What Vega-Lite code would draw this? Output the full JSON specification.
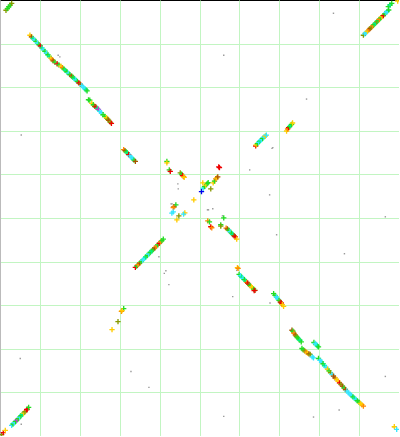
{
  "$schema": "https://vega.github.io/schema/vega-lite/v6.json",
  "width": 399,
  "height": 436,
  "padding": 0,
  "autosize": {"type": "none"},
  "background": "white",
  "config": {"view": {"stroke": "black", "strokeWidth": 1}},
  "datasets": {
    "hits": [
      {"ref": 6, "qry": 10.3, "kind": "v"}, {"ref": 7.4, "qry": 8.6, "kind": "g"}, {"ref": 8.8, "qry": 6.8, "kind": "g"}, {"ref": 10.2, "qry": 5.1, "kind": "g"}, {"ref": 11.7, "qry": 3.3, "kind": "v"},
      {"ref": 30, "qry": 35.3, "kind": "y"}, {"ref": 31.5, "qry": 36.9, "kind": "b"}, {"ref": 33, "qry": 38.4, "kind": "s"}, {"ref": 34.5, "qry": 40, "kind": "c"}, {"ref": 36, "qry": 41.5, "kind": "g"}, {"ref": 37.5, "qry": 43.1, "kind": "c"}, {"ref": 39, "qry": 44.7, "kind": "g"}, {"ref": 40.3, "qry": 46, "kind": "r"},
      {"ref": 42, "qry": 48, "kind": "s"}, {"ref": 43.5, "qry": 49.7, "kind": "c"}, {"ref": 45, "qry": 51.4, "kind": "g"}, {"ref": 46.5, "qry": 53.2, "kind": "c"}, {"ref": 48, "qry": 54.9, "kind": "g"}, {"ref": 49.5, "qry": 56.6, "kind": "s"}, {"ref": 51, "qry": 58.3, "kind": "y"}, {"ref": 52.3, "qry": 59.8, "kind": "o"}, {"ref": 53.3, "qry": 61, "kind": "b"},
      {"ref": 55, "qry": 62.2, "kind": "g"}, {"ref": 57.3, "qry": 64, "kind": "r"}, {"ref": 59, "qry": 65, "kind": "g"}, {"ref": 61, "qry": 66.3, "kind": "y"},
      {"ref": 62.5, "qry": 67.7, "kind": "o"}, {"ref": 64, "qry": 69.1, "kind": "g"}, {"ref": 65.5, "qry": 70.5, "kind": "s"}, {"ref": 67, "qry": 71.9, "kind": "g"}, {"ref": 68.5, "qry": 73.3, "kind": "c"}, {"ref": 70, "qry": 74.7, "kind": "g"}, {"ref": 71.7, "qry": 76.2, "kind": "b"}, {"ref": 73, "qry": 77.4, "kind": "g"}, {"ref": 74.5, "qry": 78.8, "kind": "s"}, {"ref": 76, "qry": 80.2, "kind": "c"}, {"ref": 77.5, "qry": 81.6, "kind": "g"}, {"ref": 79, "qry": 83, "kind": "r"},
      {"ref": 80.5, "qry": 84.4, "kind": "b"}, {"ref": 82, "qry": 85.9, "kind": "c"}, {"ref": 83.5, "qry": 87.3, "kind": "c"}, {"ref": 85, "qry": 88.8, "kind": "c"}, {"ref": 86.3, "qry": 90, "kind": "s"}, {"ref": 87.3, "qry": 91, "kind": "g"},
      {"ref": 88.7, "qry": 100, "kind": "g"}, {"ref": 90, "qry": 100.3, "kind": "g"}, {"ref": 92, "qry": 103.7, "kind": "y"}, {"ref": 93.5, "qry": 105, "kind": "g"}, {"ref": 95, "qry": 106.7, "kind": "b"}, {"ref": 96.3, "qry": 107.3, "kind": "r"}, {"ref": 97.5, "qry": 108.7, "kind": "s"}, {"ref": 98.7, "qry": 109.7, "kind": "p"}, {"ref": 100, "qry": 111.7, "kind": "c"}, {"ref": 101.5, "qry": 113, "kind": "c"}, {"ref": 103.3, "qry": 115, "kind": "g"}, {"ref": 105, "qry": 116.7, "kind": "g"}, {"ref": 106.7, "qry": 118, "kind": "y"}, {"ref": 108, "qry": 119.5, "kind": "v"}, {"ref": 109, "qry": 120.7, "kind": "b"}, {"ref": 110.5, "qry": 122.5, "kind": "v"}, {"ref": 111.7, "qry": 123.7, "kind": "r"},
      {"ref": 124, "qry": 150, "kind": "o"}, {"ref": 125.3, "qry": 151, "kind": "b"}, {"ref": 126.5, "qry": 152.3, "kind": "g"}, {"ref": 127.7, "qry": 153.3, "kind": "s"}, {"ref": 129, "qry": 155, "kind": "r"}, {"ref": 130.3, "qry": 156.3, "kind": "c"}, {"ref": 131.7, "qry": 157.7, "kind": "c"}, {"ref": 133, "qry": 159.3, "kind": "c"}, {"ref": 134.3, "qry": 160.5, "kind": "g"}, {"ref": 135.7, "qry": 161.7, "kind": "b"},
      {"ref": 167.3, "qry": 161.7, "kind": "g"}, {"ref": 167.3, "qry": 163.3, "kind": "y"}, {"ref": 169.7, "qry": 170.3, "kind": "g"}, {"ref": 170.7, "qry": 171.7, "kind": "r"},
      {"ref": 180.7, "qry": 173.3, "kind": "v"}, {"ref": 182, "qry": 174.5, "kind": "g"}, {"ref": 183, "qry": 176, "kind": "r"}, {"ref": 184, "qry": 177, "kind": "o"}, {"ref": 184.7, "qry": 177.7, "kind": "y"},
      {"ref": 219.3, "qry": 167.3, "kind": "r"}, {"ref": 220, "qry": 168, "kind": "r"},
      {"ref": 203.7, "qry": 188.7, "kind": "c"}, {"ref": 205, "qry": 187, "kind": "g"}, {"ref": 206.3, "qry": 185.5, "kind": "y"}, {"ref": 207.7, "qry": 184, "kind": "g"}, {"ref": 208.7, "qry": 183, "kind": "g"}, {"ref": 203.3, "qry": 183.3, "kind": "y"},
      {"ref": 213.7, "qry": 183.3, "kind": "y"}, {"ref": 215, "qry": 181.5, "kind": "g"}, {"ref": 216.3, "qry": 179.3, "kind": "o"}, {"ref": 217.3, "qry": 178.3, "kind": "y"}, {"ref": 218.3, "qry": 177.3, "kind": "b"},
      {"ref": 211.3, "qry": 189.3, "kind": "v"}, {"ref": 202, "qry": 192, "kind": "u"}, {"ref": 194.3, "qry": 200.3, "kind": "y"},
      {"ref": 176.3, "qry": 205.3, "kind": "g"}, {"ref": 174.3, "qry": 207.3, "kind": "b"}, {"ref": 173.7, "qry": 208, "kind": "o"},
      {"ref": 172.3, "qry": 213.7, "kind": "c"}, {"ref": 173.7, "qry": 212.3, "kind": "c"}, {"ref": 179.3, "qry": 216.3, "kind": "v"}, {"ref": 185.3, "qry": 213.3, "kind": "y"}, {"ref": 184, "qry": 214.7, "kind": "c"}, {"ref": 177.3, "qry": 220.3, "kind": "y"},
      {"ref": 224.3, "qry": 218.3, "kind": "g"}, {"ref": 208.3, "qry": 221.3, "kind": "o"}, {"ref": 210, "qry": 222.3, "kind": "g"}, {"ref": 211.3, "qry": 227.3, "kind": "r"}, {"ref": 212.3, "qry": 228.3, "kind": "o"}, {"ref": 221.3, "qry": 225.3, "kind": "g"}, {"ref": 221.3, "qry": 226.7, "kind": "v"},
      {"ref": 226.7, "qry": 228.7, "kind": "o"}, {"ref": 228, "qry": 229.5, "kind": "b"}, {"ref": 229.3, "qry": 230.7, "kind": "g"}, {"ref": 230.7, "qry": 232.3, "kind": "c"}, {"ref": 232, "qry": 233.7, "kind": "g"}, {"ref": 233.3, "qry": 235, "kind": "s"}, {"ref": 234.7, "qry": 236.3, "kind": "b"}, {"ref": 235.7, "qry": 237.3, "kind": "r"}, {"ref": 237.3, "qry": 239.7, "kind": "y"},
      {"ref": 135.7, "qry": 268, "kind": "r"}, {"ref": 137, "qry": 266.7, "kind": "g"}, {"ref": 138.5, "qry": 265.2, "kind": "o"}, {"ref": 140, "qry": 263.7, "kind": "b"}, {"ref": 141.5, "qry": 262.2, "kind": "g"}, {"ref": 143, "qry": 260.7, "kind": "c"}, {"ref": 144.5, "qry": 259.2, "kind": "c"}, {"ref": 146, "qry": 257.6, "kind": "s"}, {"ref": 147.5, "qry": 256.1, "kind": "g"}, {"ref": 149, "qry": 254.6, "kind": "c"}, {"ref": 150.5, "qry": 253.1, "kind": "g"}, {"ref": 152, "qry": 251.6, "kind": "s"}, {"ref": 153.5, "qry": 250.1, "kind": "g"}, {"ref": 155, "qry": 248.6, "kind": "b"}, {"ref": 156.5, "qry": 247.1, "kind": "o"}, {"ref": 158, "qry": 245.5, "kind": "g"}, {"ref": 159.5, "qry": 244, "kind": "r"}, {"ref": 161, "qry": 242.5, "kind": "o"}, {"ref": 162.3, "qry": 241.1, "kind": "g"}, {"ref": 163.7, "qry": 239.7, "kind": "g"},
      {"ref": 238, "qry": 268.3, "kind": "y"}, {"ref": 238.7, "qry": 269, "kind": "o"},
      {"ref": 239.7, "qry": 275, "kind": "g"}, {"ref": 241, "qry": 276.3, "kind": "c"}, {"ref": 242.3, "qry": 277.7, "kind": "s"}, {"ref": 243.7, "qry": 279, "kind": "c"}, {"ref": 245, "qry": 280.3, "kind": "g"}, {"ref": 246.3, "qry": 281.7, "kind": "s"}, {"ref": 247.5, "qry": 283, "kind": "o"}, {"ref": 248.3, "qry": 283.7, "kind": "r"}, {"ref": 249.5, "qry": 285, "kind": "b"}, {"ref": 250.7, "qry": 286.3, "kind": "g"}, {"ref": 252, "qry": 287.5, "kind": "y"}, {"ref": 253, "qry": 288.3, "kind": "y"}, {"ref": 254.3, "qry": 289.7, "kind": "g"}, {"ref": 255.7, "qry": 291, "kind": "b"}, {"ref": 254.8, "qry": 291.3, "kind": "r"},
      {"ref": 124, "qry": 309.3, "kind": "g"}, {"ref": 121.7, "qry": 312, "kind": "o"}, {"ref": 122.3, "qry": 311.3, "kind": "y"}, {"ref": 118.3, "qry": 322.3, "kind": "v"}, {"ref": 112.3, "qry": 330.3, "kind": "y"},
      {"ref": 1.7, "qry": 435.7, "kind": "v"}, {"ref": 3.3, "qry": 433.7, "kind": "r"}, {"ref": 5.3, "qry": 431.3, "kind": "y"},
      {"ref": 11.7, "qry": 426.3, "kind": "c"}, {"ref": 13, "qry": 425, "kind": "g"}, {"ref": 14.3, "qry": 423.7, "kind": "c"}, {"ref": 15.7, "qry": 422.3, "kind": "g"}, {"ref": 17, "qry": 421, "kind": "p"}, {"ref": 18.3, "qry": 419.5, "kind": "g"}, {"ref": 19.7, "qry": 418, "kind": "c"}, {"ref": 21, "qry": 416.7, "kind": "g"}, {"ref": 22.3, "qry": 415.3, "kind": "s"}, {"ref": 23.7, "qry": 414, "kind": "y"}, {"ref": 25, "qry": 412.7, "kind": "v"}, {"ref": 26.7, "qry": 410.7, "kind": "r"}, {"ref": 27.3, "qry": 410, "kind": "r"}, {"ref": 28.7, "qry": 408.3, "kind": "g"},
      {"ref": 274.3, "qry": 294.3, "kind": "g"}, {"ref": 275.7, "qry": 296, "kind": "g"}, {"ref": 277, "qry": 297.7, "kind": "c"}, {"ref": 278.3, "qry": 299.3, "kind": "c"}, {"ref": 279.7, "qry": 301, "kind": "g"}, {"ref": 281, "qry": 302.7, "kind": "b"}, {"ref": 282, "qry": 303.7, "kind": "r"}, {"ref": 283, "qry": 305.3, "kind": "y"}, {"ref": 284.3, "qry": 307, "kind": "y"},
      {"ref": 292.7, "qry": 331, "kind": "b"}, {"ref": 293.7, "qry": 332, "kind": "g"}, {"ref": 294.7, "qry": 334, "kind": "o"}, {"ref": 296, "qry": 335.7, "kind": "b"}, {"ref": 297, "qry": 337, "kind": "v"}, {"ref": 298, "qry": 338.3, "kind": "g"}, {"ref": 299.3, "qry": 339.7, "kind": "g"}, {"ref": 300.7, "qry": 341, "kind": "s"}, {"ref": 302, "qry": 342.7, "kind": "g"},
      {"ref": 314.7, "qry": 343.3, "kind": "g"}, {"ref": 316, "qry": 344.3, "kind": "c"}, {"ref": 317.3, "qry": 345.7, "kind": "c"}, {"ref": 318.3, "qry": 347, "kind": "s"}, {"ref": 319.3, "qry": 347.7, "kind": "g"},
      {"ref": 302.7, "qry": 349.3, "kind": "g"}, {"ref": 304, "qry": 350.7, "kind": "g"}, {"ref": 305.5, "qry": 351.7, "kind": "v"}, {"ref": 307, "qry": 353, "kind": "o"}, {"ref": 308.3, "qry": 354, "kind": "y"}, {"ref": 309.7, "qry": 354.7, "kind": "b"}, {"ref": 311, "qry": 355.3, "kind": "v"}, {"ref": 313, "qry": 357.7, "kind": "c"}, {"ref": 314.3, "qry": 358.7, "kind": "c"},
      {"ref": 319.3, "qry": 359.3, "kind": "g"}, {"ref": 320.8, "qry": 361.1, "kind": "c"}, {"ref": 322.3, "qry": 362.8, "kind": "c"}, {"ref": 323.8, "qry": 364.6, "kind": "g"}, {"ref": 325.3, "qry": 366.4, "kind": "s"}, {"ref": 326.8, "qry": 368.1, "kind": "c"}, {"ref": 328.3, "qry": 369.9, "kind": "y"}, {"ref": 329.8, "qry": 371.7, "kind": "g"}, {"ref": 331.3, "qry": 373.5, "kind": "v"}, {"ref": 332.8, "qry": 375.2, "kind": "c"}, {"ref": 334.3, "qry": 377, "kind": "b"}, {"ref": 335.8, "qry": 378.7, "kind": "b"}, {"ref": 337.3, "qry": 380.3, "kind": "y"}, {"ref": 338.8, "qry": 382, "kind": "y"}, {"ref": 340.3, "qry": 383.7, "kind": "r"}, {"ref": 341.8, "qry": 385.3, "kind": "v"}, {"ref": 343.3, "qry": 387, "kind": "b"}, {"ref": 344.8, "qry": 388.7, "kind": "g"}, {"ref": 346.3, "qry": 390.4, "kind": "b"}, {"ref": 347.8, "qry": 392, "kind": "c"}, {"ref": 349.3, "qry": 393.7, "kind": "c"}, {"ref": 350.8, "qry": 395, "kind": "c"}, {"ref": 352.3, "qry": 396.4, "kind": "c"}, {"ref": 353.8, "qry": 397.7, "kind": "g"}, {"ref": 355.3, "qry": 399, "kind": "s"}, {"ref": 356.8, "qry": 400.4, "kind": "c"}, {"ref": 358.3, "qry": 401.7, "kind": "g"}, {"ref": 359.8, "qry": 403, "kind": "g"}, {"ref": 361.3, "qry": 404.3, "kind": "y"}, {"ref": 362.8, "qry": 405.7, "kind": "y"}, {"ref": 364.3, "qry": 407, "kind": "o"},
      {"ref": 395.3, "qry": 427.7, "kind": "y"}, {"ref": 397.7, "qry": 430.3, "kind": "c"},
      {"ref": 364.3, "qry": 35.3, "kind": "v"}, {"ref": 365.7, "qry": 33.9, "kind": "c"}, {"ref": 367, "qry": 32.6, "kind": "c"}, {"ref": 368.3, "qry": 31.3, "kind": "y"}, {"ref": 369.7, "qry": 29.9, "kind": "o"}, {"ref": 371, "qry": 28.6, "kind": "b"}, {"ref": 372.3, "qry": 27.3, "kind": "v"}, {"ref": 373.7, "qry": 25.9, "kind": "o"}, {"ref": 375, "qry": 24.6, "kind": "g"}, {"ref": 376.3, "qry": 23.3, "kind": "s"}, {"ref": 377.7, "qry": 21.9, "kind": "v"}, {"ref": 379, "qry": 20.6, "kind": "g"}, {"ref": 380.3, "qry": 19.3, "kind": "o"}, {"ref": 381.7, "qry": 18, "kind": "g"}, {"ref": 383, "qry": 16.7, "kind": "y"}, {"ref": 384.3, "qry": 15.7, "kind": "r"}, {"ref": 385.7, "qry": 14, "kind": "g"}, {"ref": 387, "qry": 12.7, "kind": "c"}, {"ref": 388.3, "qry": 11.3, "kind": "c"}, {"ref": 389.7, "qry": 10, "kind": "g"},
      {"ref": 389.3, "qry": 6.7, "kind": "g"}, {"ref": 391, "qry": 5, "kind": "s"}, {"ref": 392.7, "qry": 3.3, "kind": "g"}, {"ref": 398.7, "qry": 1, "kind": "y"},
      {"ref": 287.3, "qry": 131.3, "kind": "y"}, {"ref": 288.3, "qry": 129.3, "kind": "o"}, {"ref": 289.3, "qry": 128, "kind": "r"}, {"ref": 290.3, "qry": 127, "kind": "g"}, {"ref": 291.3, "qry": 125.7, "kind": "s"}, {"ref": 292.3, "qry": 124.7, "kind": "g"}, {"ref": 293.3, "qry": 123.3, "kind": "y"},
      {"ref": 256.3, "qry": 146.3, "kind": "r"}, {"ref": 256.8, "qry": 145.3, "kind": "y"}, {"ref": 258, "qry": 144, "kind": "g"}, {"ref": 259.3, "qry": 142.7, "kind": "c"}, {"ref": 260.7, "qry": 141.3, "kind": "s"}, {"ref": 262, "qry": 140, "kind": "c"}, {"ref": 263.3, "qry": 138.7, "kind": "g"}, {"ref": 264.7, "qry": 137.3, "kind": "c"}, {"ref": 266, "qry": 136.3, "kind": "y"}, {"ref": 267, "qry": 135.5, "kind": "c"}
    ],
    "noise": [
      {"ref": 58.3, "qry": 55.3}, {"ref": 60, "qry": 57}, {"ref": 21.3, "qry": 135.3}, {"ref": 224.3, "qry": 55.3},
      {"ref": 334.3, "qry": 13.3}, {"ref": 307.3, "qry": 99.3}, {"ref": 250.3, "qry": 170.3}, {"ref": 178.3, "qry": 184.3}, {"ref": 178.7, "qry": 189.3},
      {"ref": 171.5, "qry": 204.3}, {"ref": 172.5, "qry": 204.3}, {"ref": 208, "qry": 210.3}, {"ref": 209, "qry": 210.3}, {"ref": 213.3, "qry": 209.3}, {"ref": 223, "qry": 216.3},
      {"ref": 159.3, "qry": 257.3}, {"ref": 166.3, "qry": 271.3}, {"ref": 164.7, "qry": 274}, {"ref": 169.3, "qry": 285.3}, {"ref": 237.3, "qry": 271},
      {"ref": 272.7, "qry": 148.7}, {"ref": 273.5, "qry": 148}, {"ref": 270.3, "qry": 195.3}, {"ref": 386.3, "qry": 217.3}, {"ref": 277.3, "qry": 235.3}, {"ref": 345.3, "qry": 254.3},
      {"ref": 20.3, "qry": 359.3}, {"ref": 131.3, "qry": 372.3}, {"ref": 21.3, "qry": 425.3},
      {"ref": 233.3, "qry": 297.3}, {"ref": 149.3, "qry": 388.3}, {"ref": 224.3, "qry": 417.3},
      {"ref": 270.7, "qry": 303.7}, {"ref": 386.3, "qry": 377.3}, {"ref": 340, "qry": 411}, {"ref": 314.3, "qry": 418}, {"ref": 394, "qry": 427.7}
    ]
  },
  "layer": [
    {
      "data": {"name": "noise"},
      "mark": {"type": "square", "size": 2, "color": "#999999", "opacity": 1, "filled": true},
      "encoding": {
        "x": {"field": "ref", "type": "quantitative", "scale": {"domain": [0, 400], "nice": false, "zero": false},
          "axis": {"values": [40, 80, 120, 160, 200, 240, 280, 320, 360], "grid": true, "gridColor": "#c2f5c2", "gridOpacity": 1, "gridWidth": 1, "labels": false, "ticks": false, "domain": false, "title": null}},
        "y": {"field": "qry", "type": "quantitative", "scale": {"domain": [0, 437], "nice": false, "zero": false, "reverse": true},
          "axis": {"values": [43.7, 87.4, 131.1, 174.8, 218.5, 262.2, 305.9, 349.6, 393.3], "grid": true, "gridColor": "#c2f5c2", "gridOpacity": 1, "gridWidth": 1, "labels": false, "ticks": false, "domain": true, "domainColor": "#bbbbbb", "title": null}}
      }
    },
    {
      "data": {"name": "hits"},
      "mark": {"type": "point", "shape": "M-1,-0.25H-0.25V-1H0.25V-0.25H1V0.25H0.25V1H-0.25V0.25H-1Z", "size": 28, "filled": true, "opacity": 1, "strokeWidth": 0},
      "encoding": {
        "x": {"field": "ref", "type": "quantitative"},
        "y": {"field": "qry", "type": "quantitative"},
        "color": {"field": "kind", "type": "nominal", "legend": null,
          "scale": {"domain": ["g", "s", "c", "y", "o", "r", "v", "b", "u", "p"],
                    "range": ["#22dd22", "#00ee88", "#33e6ff", "#ffcc00", "#ff8800", "#ee0000", "#889900", "#aa5500", "#0000ee", "#cc33cc"]}}
      }
    }
  ]
}
